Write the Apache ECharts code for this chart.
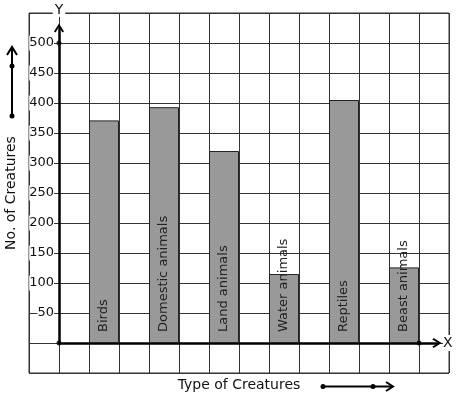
<!DOCTYPE html>
<html>
<head>
<meta charset="utf-8">
<script src="https://cdn.jsdelivr.net/npm/echarts@6/dist/echarts.min.js"></script>
<style>
html, body { margin: 0; padding: 0; background: #fff; }
#main { width: 457px; height: 399px; }
</style>
</head>
<body>
<div id="main"></div>
<script>
// values
var creatures = ['Birds', 'Domestic animals', 'Land animals', 'Water animals', 'Reptiles', 'Beast animals'];
var counts = [371, 393, 320, 115, 405, 126];
var yLabels = [50, 100, 150, 200, 250, 300, 350, 400, 450, 500];
// dots marked on the axes: origin, y = 500, x = 12 cells
var axisDots = [[0, 0], [0, 500], [12, 0]];

// 14 grid columns, a bar in every second one starting at column 2
var slots = [], barData = [], slotNames = [];
for (var i = 0; i < 14; i++) {
    slots.push('c' + i);
    barData.push('-');
    slotNames.push('');
}
for (var j = 0; j < creatures.length; j++) {
    barData[2 + 2 * j] = counts[j];
    slotNames[2 + 2 * j] = creatures[j];
}

var arrowPath = 'path://M5,0L10,8L8.4,9.2L5,3.4L1.6,9.2L0,8Z';
var gridColor = '#333';

var myChart = echarts.init(document.getElementById('main'));
var option = {
    animation: false,
    textStyle: { fontFamily: 'DejaVu Sans' },
    grid: [{
        left: 29, top: 13, width: 420, height: 360,
        outerBoundsMode: 'none',
        show: true, borderColor: gridColor, borderWidth: 1
    }, {
        left: 59, top: 28, width: 378, height: 315,
        outerBoundsMode: 'none'
    }],
    xAxis: [{
        gridIndex: 0,
        type: 'category',
        data: slots,
        axisLine: { show: false },
        axisTick: { show: false },
        axisLabel: { show: false },
        splitLine: { show: true, lineStyle: { color: gridColor, width: 1 } },
        name: 'Type of Creatures',
        nameLocation: 'middle',
        nameGap: 5,
        nameTextStyle: { fontSize: 14, color: '#111', verticalAlign: 'top' }
    }, {
        gridIndex: 1,
        type: 'value',
        min: 0, max: 12.6,
        axisLine: {
            show: true,
            lineStyle: { color: '#000', width: 2.5 },
            symbol: ['none', arrowPath],
            symbolSize: [10, 10]
        },
        axisTick: { show: false },
        axisLabel: { show: false },
        splitLine: { show: false },
        name: 'X',
        nameGap: 6,
        nameTextStyle: { fontSize: 14, color: '#111', backgroundColor: '#fff', padding: [1, 0] }
    }],
    yAxis: [{
        gridIndex: 0,
        type: 'value',
        min: -50, max: 550, interval: 50,
        offset: -30,
        axisLine: { show: false },
        axisTick: { show: false },
        axisLabel: {
            margin: 5,
            fontSize: 13,
            color: '#111',
            backgroundColor: '#fff',
            padding: [1, 0],
            formatter: function(v) {
                return yLabels.indexOf(v) >= 0 ? String(v) : '';
            }
        },
        splitLine: { show: true, lineStyle: { color: gridColor, width: 1 } },
        name: 'No. of Creatures',
        nameLocation: 'middle',
        nameGap: 40,
        nameRotate: 90,
        nameTextStyle: { fontSize: 14, color: '#111' }
    }, {
        gridIndex: 1,
        type: 'value',
        min: 0, max: 525,
        axisLine: {
            show: true,
            lineStyle: { color: '#000', width: 2.5 },
            symbol: ['none', arrowPath],
            symbolSize: [10, 10]
        },
        axisTick: { show: false },
        axisLabel: { show: false },
        splitLine: { show: false },
        name: 'Y',
        nameGap: 11,
        nameTextStyle: { fontSize: 14, color: '#111', backgroundColor: '#fff', padding: [0, 2] }
    }],
    series: [{
        type: 'bar',
        xAxisIndex: 0,
        yAxisIndex: 0,
        data: barData,
        barWidth: '100%',
        itemStyle: { color: '#999', borderColor: '#222', borderWidth: 1 },
        label: {
            show: true,
            position: 'insideBottom',
            rotate: 90,
            align: 'left',
            verticalAlign: 'middle',
            distance: 11,
            fontSize: 13,
            color: '#222',
            formatter: function(p) {
                return slotNames[p.dataIndex];
            }
        }
    }, {
        type: 'scatter',
        xAxisIndex: 1,
        yAxisIndex: 1,
        data: axisDots,
        symbolSize: 5,
        itemStyle: { color: '#000' },
        z: 5
    }],
    graphic: [
        // arrow beside the y axis title
        { type: 'line', shape: { x1: 12, y1: 116, x2: 12, y2: 48 }, style: { stroke: '#000', lineWidth: 2 } },
        { type: 'polyline', shape: { points: [[7, 55], [12, 47], [17, 55]] }, style: { stroke: '#000', lineWidth: 2, fill: null } },
        { type: 'circle', shape: { cx: 12, cy: 66, r: 2.5 }, style: { fill: '#000' } },
        { type: 'circle', shape: { cx: 12, cy: 116, r: 2.5 }, style: { fill: '#000' } },
        // arrow beside the x axis title
        { type: 'line', shape: { x1: 323, y1: 386.5, x2: 392, y2: 386.5 }, style: { stroke: '#000', lineWidth: 2 } },
        { type: 'polyline', shape: { points: [[386, 382], [393, 386.5], [386, 391]] }, style: { stroke: '#000', lineWidth: 2, fill: null } },
        { type: 'circle', shape: { cx: 323, cy: 386.5, r: 2.5 }, style: { fill: '#000' } },
        { type: 'circle', shape: { cx: 373, cy: 386.5, r: 2.5 }, style: { fill: '#000' } }
    ]
};
myChart.setOption(option);
</script>
</body>
</html>
